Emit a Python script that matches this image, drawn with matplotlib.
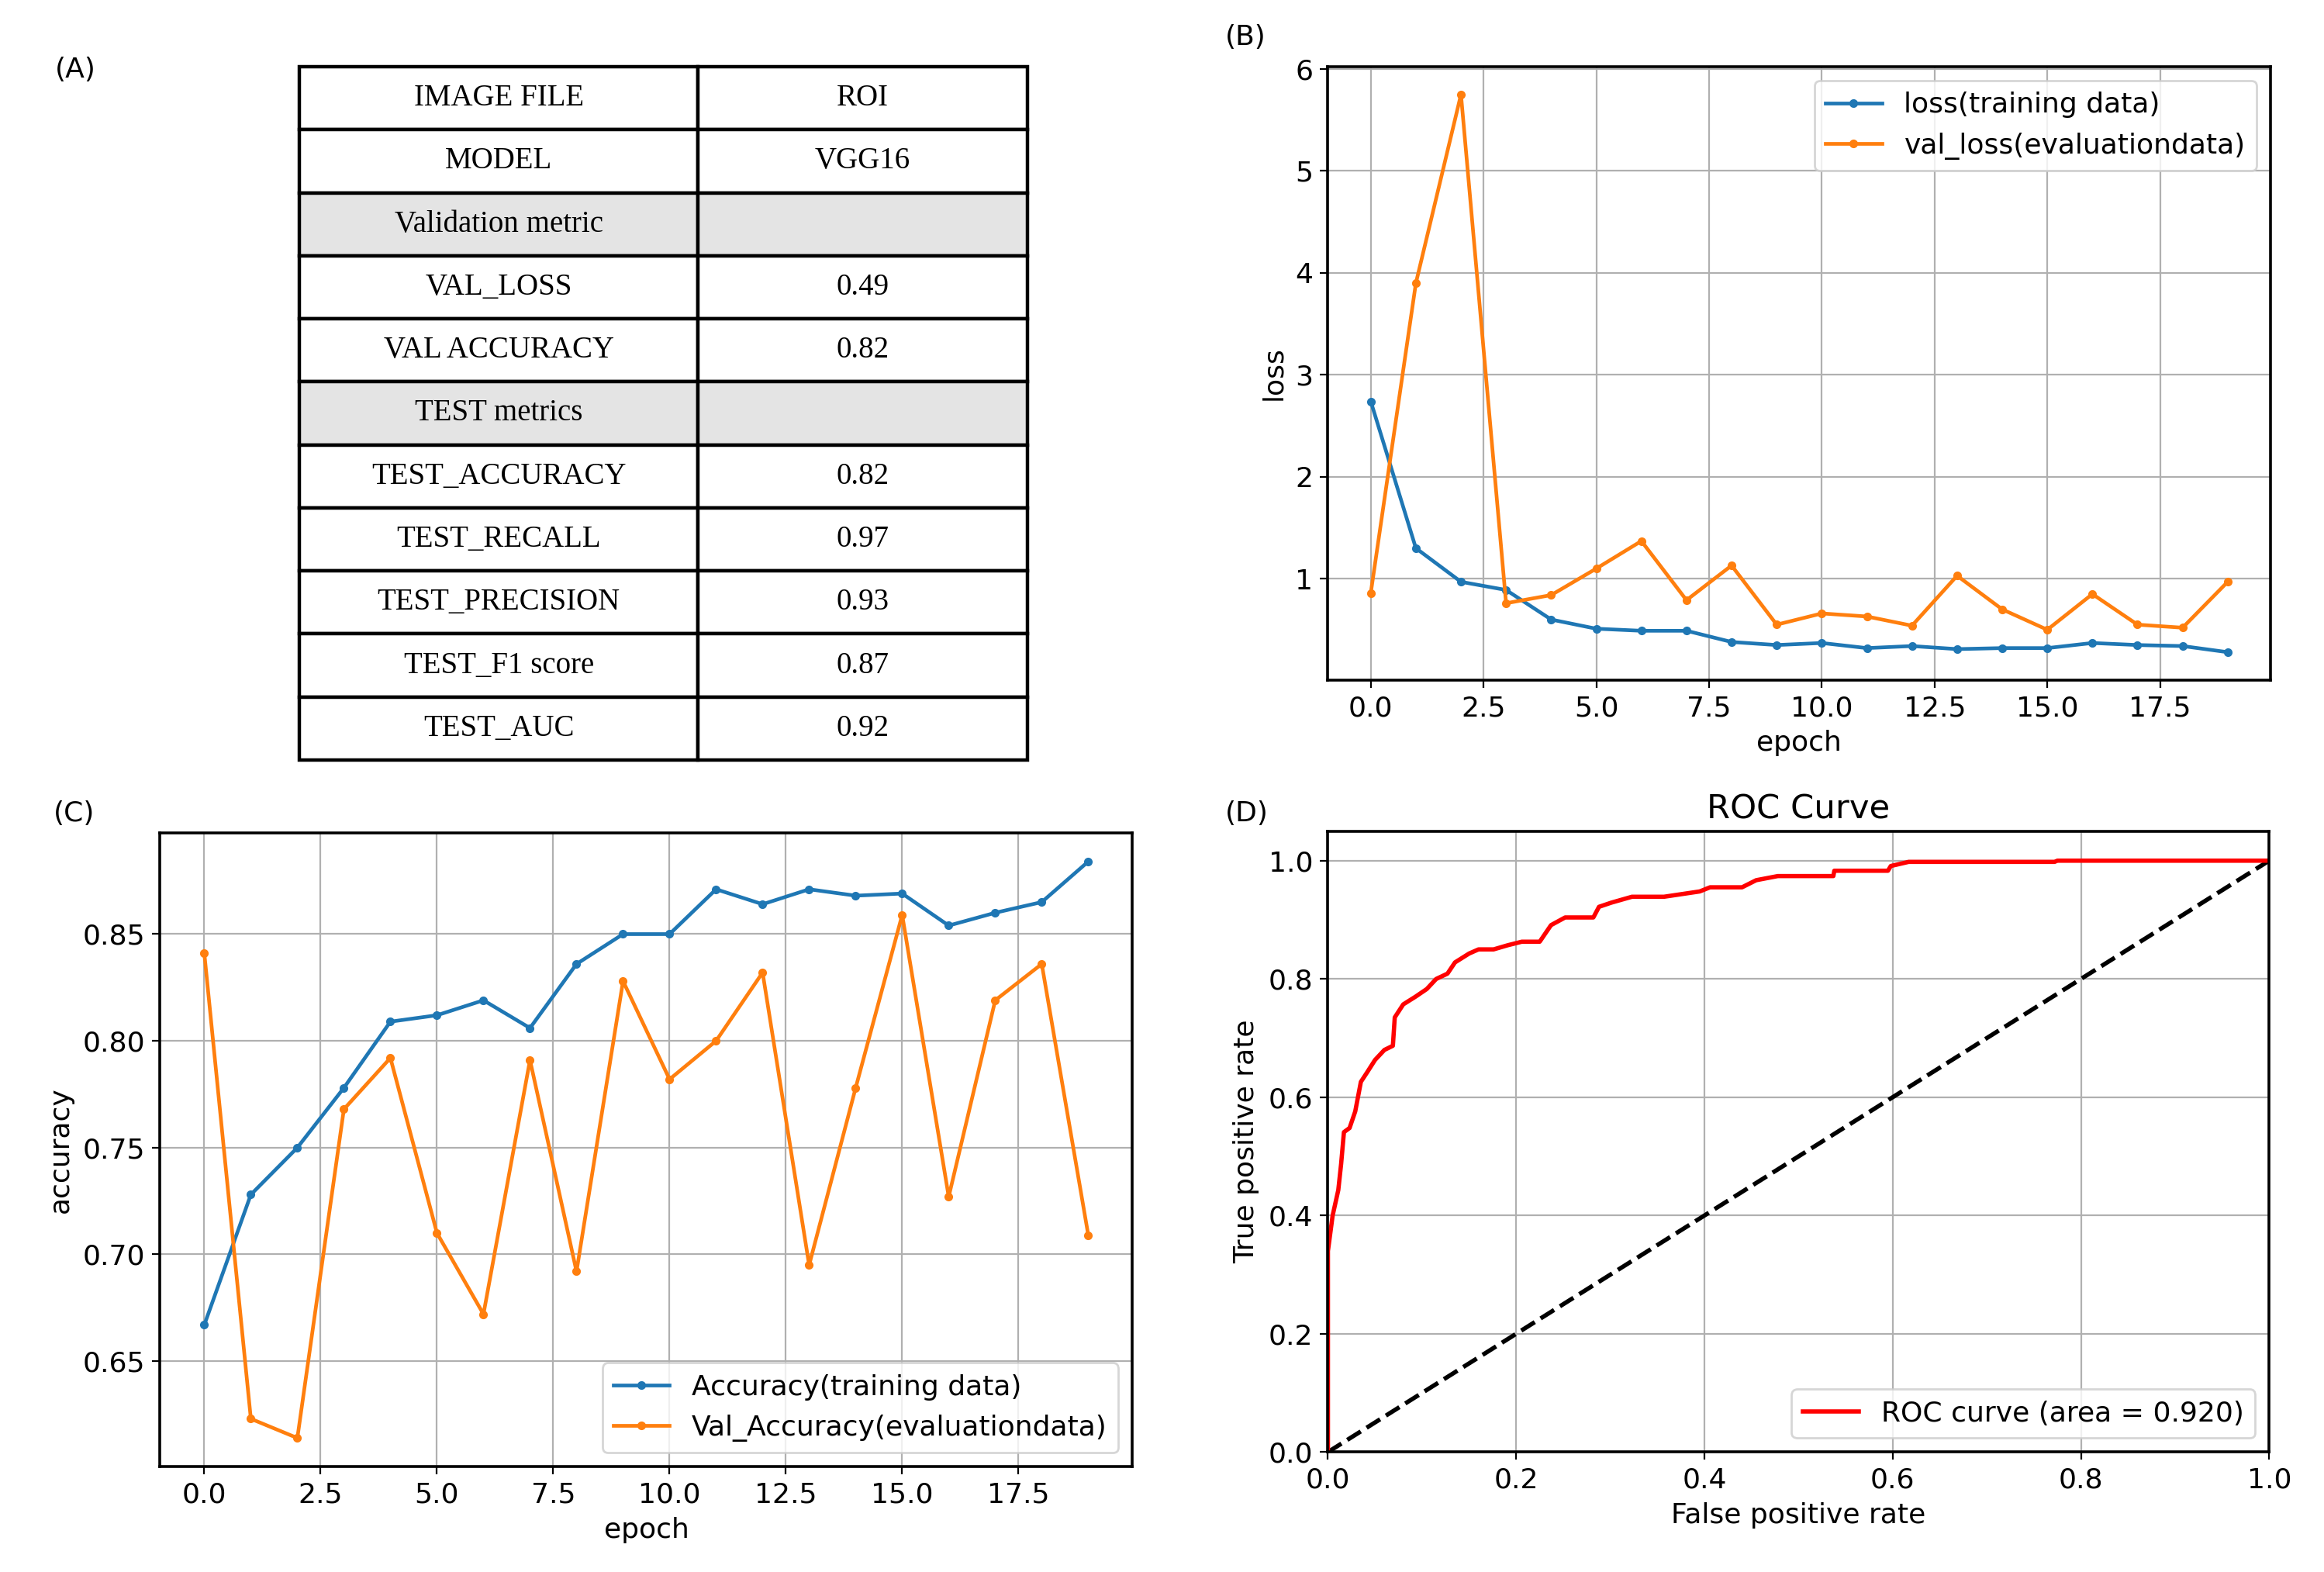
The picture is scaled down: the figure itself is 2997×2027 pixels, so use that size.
import matplotlib
matplotlib.use("Agg")
import matplotlib.pyplot as plt

# panel A table
table_rows = [
    ["IMAGE FILE", "ROI"],
    ["MODEL", "VGG16"],
    ["Validation metric", ""],
    ["VAL_LOSS", "0.49"],
    ["VAL ACCURACY", "0.82"],
    ["TEST metrics", ""],
    ["TEST_ACCURACY", "0.82"],
    ["TEST_RECALL", "0.97"],
    ["TEST_PRECISION", "0.93"],
    ["TEST_F1 score", "0.87"],
    ["TEST_AUC", "0.92"],
]
shaded_rows = [2, 5]

# panel B: loss
epochs = list(range(20))
loss = [2.74, 1.30, 0.97, 0.89, 0.60, 0.51, 0.49, 0.49, 0.38, 0.35,
        0.37, 0.32, 0.34, 0.31, 0.32, 0.32, 0.37, 0.35, 0.34, 0.28]
val_loss = [0.86, 3.90, 5.75, 0.76, 0.84, 1.10, 1.37, 0.79, 1.13, 0.55,
            0.66, 0.63, 0.54, 1.03, 0.70, 0.50, 0.85, 0.55, 0.52, 0.97]

# panel C: accuracy
acc = [0.667, 0.728, 0.750, 0.778, 0.809, 0.812, 0.819, 0.806, 0.836, 0.850,
       0.850, 0.871, 0.864, 0.871, 0.868, 0.869, 0.854, 0.860, 0.865, 0.884]
val_acc = [0.841, 0.623, 0.614, 0.768, 0.792, 0.710, 0.672, 0.791, 0.692, 0.828,
           0.782, 0.800, 0.832, 0.695, 0.778, 0.859, 0.727, 0.819, 0.836, 0.709]

# panel D: ROC curve
fpr = [0.0, 0.0, 0.005, 0.011, 0.014, 0.017, 0.023, 0.029, 0.035, 0.042,
       0.050, 0.060, 0.069, 0.071, 0.080, 0.093, 0.105, 0.115, 0.127, 0.135,
       0.150, 0.160, 0.176, 0.191, 0.206, 0.225, 0.237, 0.252, 0.282, 0.288,
       0.301, 0.323, 0.357, 0.395, 0.406, 0.440, 0.455, 0.478, 0.537, 0.538,
       0.595, 0.598, 0.617, 0.772, 0.775, 1.0]
tpr = [0.0, 0.34, 0.40, 0.443, 0.487, 0.541, 0.548, 0.576, 0.626, 0.643,
       0.663, 0.680, 0.687, 0.735, 0.757, 0.770, 0.783, 0.800, 0.809, 0.828,
       0.843, 0.850, 0.850, 0.857, 0.863, 0.863, 0.891, 0.904, 0.904, 0.922,
       0.929, 0.939, 0.939, 0.948, 0.955, 0.955, 0.967, 0.974, 0.974, 0.983,
       0.983, 0.991, 0.998, 0.998, 1.0, 1.0]
roc_auc = 0.920

plt.rcParams['font.size'] = 13
fig = plt.figure(figsize=(14.985, 10.135), dpi=200)

# (A) table
ax_t = fig.add_axes([0.1288, 0.5165, 0.3132, 0.4411])
ax_t.axis('off')
tbl = ax_t.table(cellText=table_rows, cellLoc='center', bbox=[0, 0, 1, 1],
                 colWidths=[0.548, 0.452])
tbl.auto_set_font_size(False)
for (r, c), cell in tbl.get_celld().items():
    cell.set_linewidth(1.6)
    cell.set_edgecolor('black')
    cell.get_text().set_fontfamily('Liberation Serif')
    cell.get_text().set_fontsize(14)
    if r in shaded_rows:
        cell.set_facecolor('#e4e4e4')

# (B) loss
ax_b = fig.add_axes([0.5714, 0.5674, 0.4056, 0.3902])
ax_b.plot(epochs, loss, marker='.', lw=1.7, label='loss(training data)')
ax_b.plot(epochs, val_loss, marker='.', lw=1.7, label='val_loss(evaluationdata)')
ax_b.set_xlabel('epoch')
ax_b.set_ylabel('loss')
ax_b.grid(True)
ax_b.legend(loc='upper right')

# (C) accuracy
ax_c = fig.add_axes([0.0689, 0.0669, 0.4184, 0.4034])
ax_c.plot(epochs, acc, marker='.', lw=1.7, label='Accuracy(training data)')
ax_c.plot(epochs, val_acc, marker='.', lw=1.7, label='Val_Accuracy(evaluationdata)')
ax_c.set_xlabel('epoch')
ax_c.set_ylabel('accuracy')
ax_c.grid(True)
ax_c.legend(loc='lower right')

# (D) ROC
ax_d = fig.add_axes([0.5714, 0.0763, 0.405, 0.395])
ax_d.plot([0, 1], [0, 1], 'k--', lw=2)
ax_d.plot(fpr, tpr, color='red', lw=2, label='ROC curve (area = %0.3f)' % roc_auc)
ax_d.set_xlim(0.0, 1.0)
ax_d.set_ylim(0.0, 1.05)
ax_d.set_xlabel('False positive rate')
ax_d.set_ylabel('True positive rate')
ax_d.set_title('ROC Curve')
ax_d.grid(True)
ax_d.legend(loc='lower right')

for ax in (ax_b, ax_c, ax_d):
    for sp in ax.spines.values():
        sp.set_linewidth(1.3)

fig.text(0.0236, 0.9557, '(A)', fontsize=13, va='center')
fig.text(0.527, 0.9764, '(B)', fontsize=13, va='center')
fig.text(0.023, 0.4826, '(C)', fontsize=13, va='center')
fig.text(0.527, 0.4826, '(D)', fontsize=13, va='center')

fig.savefig('out.png', dpi=200)
